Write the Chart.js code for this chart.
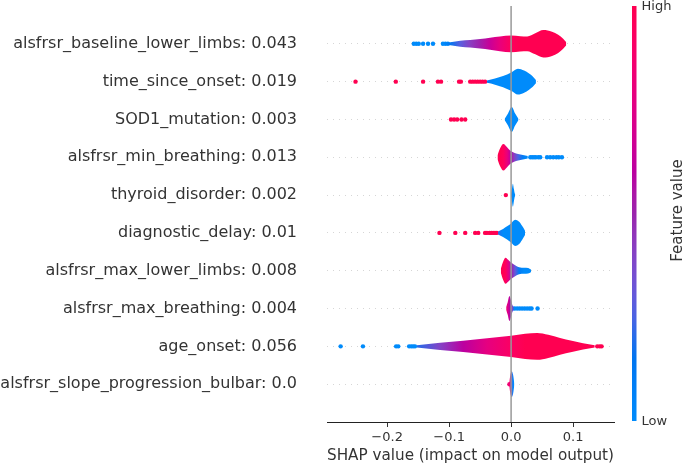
<!DOCTYPE html>
<html lang="en">
<head>
<meta charset="UTF-8">
<title>SHAP summary</title>
<script src="https://cdn.jsdelivr.net/npm/chart.js@4.4.0/dist/chart.umd.min.js"></script>
<style>
  html, body { margin: 0; padding: 0; background: #fff; }
  .chart-container { position: relative; width: 685px; height: 465px; }
</style>
</head>
<body>
<div class="chart-container"><canvas id="chart" width="685" height="465"></canvas></div>
<script>
// features from top to bottom
const features = [
  'alsfrsr_baseline_lower_limbs: 0.043',
  'time_since_onset: 0.019',
  'SOD1_mutation: 0.003',
  'alsfrsr_min_breathing: 0.013',
  'thyroid_disorder: 0.002',
  'diagnostic_delay: 0.01',
  'alsfrsr_max_lower_limbs: 0.008',
  'alsfrsr_max_breathing: 0.004',
  'age_onset: 0.056',
  'alsfrsr_slope_progression_bulbar: 0.0'
];

// violin outline: shap value, half width (in rows), feature value (0 low .. 1 high)
const violinX = [
  [-0.110, -0.098, -0.082, -0.066, -0.050, -0.034, -0.018, 0.0, 0.015, 0.026, 0.039, 0.052, 0.066, 0.076, 0.084, 0.089],
  [-0.039, -0.026, -0.013, 0.0, 0.011, 0.021, 0.029, 0.035, 0.040],
  [-0.0105, -0.005, 0.001, 0.0065, 0.012],
  [-0.022, -0.0177, -0.0124, -0.0065, -0.0016, 0.0048, 0.0113, 0.019, 0.027],
  [-0.0003, 0.0013, 0.0029, 0.0045, 0.0058, 0.0068],
  [-0.021, -0.013, -0.0065, 0.0, 0.0065, 0.013, 0.0177, 0.0226],
  [-0.0166, -0.0129, -0.0089, -0.0048, 0.0, 0.0065, 0.0129, 0.021, 0.0274, 0.0323],
  [-0.008, -0.0056, -0.0027, 0.0, 0.0024, 0.0048],
  [-0.152, -0.1145, -0.0774, -0.0387, 0.0, 0.0226, 0.042, 0.06, 0.079, 0.098, 0.116, 0.135],
  [-0.0032, -0.0016, 0.0008, 0.0032, 0.0053]
];
const violinW = [
  [0.027, 0.04, 0.08, 0.10, 0.127, 0.16, 0.194, 0.22, 0.2, 0.194, 0.279, 0.364, 0.32, 0.24, 0.133, 0.04],
  [0.032, 0.08, 0.146, 0.239, 0.34, 0.292, 0.212, 0.133, 0.04],
  [0.013, 0.16, 0.332, 0.16, 0.013],
  [0.053, 0.239, 0.353, 0.265, 0.178, 0.12, 0.088, 0.058, 0.032],
  [0.013, 0.16, 0.30, 0.16, 0.05, 0.013],
  [0.04, 0.106, 0.173, 0.252, 0.345, 0.292, 0.186, 0.053],
  [0.053, 0.239, 0.345, 0.292, 0.22, 0.146, 0.093, 0.08, 0.074, 0.032],
  [0.04, 0.16, 0.332, 0.212, 0.08, 0.04],
  [0.027, 0.093, 0.146, 0.212, 0.279, 0.332, 0.353, 0.305, 0.22, 0.146, 0.08, 0.027],
  [0.013, 0.2, 0.34, 0.25, 0.013]
];
const violinT = [
  [0.0, 0.15, 0.28, 0.42, 0.52, 0.65, 0.8, 0.95, 1, 1, 1, 1, 1, 1, 1, 1],
  [0.1, 0, 0, 0, 0, 0, 0, 0, 0],
  [0, 0, 0, 0, 0],
  [1, 1, 0.95, 0.8, 0.62, 0.42, 0.25, 0.1, 0],
  [0, 0, 0, 0, 0, 0],
  [0.2, 0, 0, 0, 0, 0, 0, 0],
  [1, 1, 0.95, 0.78, 0.55, 0.3, 0.1, 0, 0, 0],
  [0.85, 0.75, 0.6, 0.5, 0.35, 0.1],
  [0.2, 0.4, 0.6, 0.78, 0.92, 1, 1, 1, 1, 1, 1, 1],
  [0.85, 0.8, 0.3, 0, 0]
];

// single points outside the violins
const dotX = [
  [-0.157, -0.153, -0.149, -0.142, -0.134, -0.126, -0.110, -0.106, -0.102],
  [-0.251, -0.186, -0.142, -0.118, -0.113, -0.084, -0.081, -0.066, -0.062, -0.058, -0.054, -0.050, -0.046, -0.042],
  [-0.097, -0.092, -0.087, -0.080, -0.074],
  [0.031, 0.034, 0.037, 0.040, 0.044, 0.047, 0.058, 0.063, 0.068, 0.073, 0.077, 0.082],
  [-0.0085],
  [-0.1156, -0.090, -0.074, -0.058, -0.053, -0.042, -0.039, -0.035, -0.032, -0.029, -0.026, -0.023],
  [],
  [0.0056, 0.0097, 0.0137, 0.0177, 0.0218, 0.0258, 0.0298, 0.033, 0.0427],
  [-0.275, -0.239, -0.1855, -0.182, -0.1645, -0.161, -0.158, -0.155, 0.139, 0.143, 0.146],
  [-0.0027]
];
const dotT = [
  [0, 0, 0, 0, 0, 0, 0, 0, 0],
  [1, 1, 1, 1, 1, 1, 1, 1, 1, 1, 1, 1, 1, 1],
  [1, 1, 1, 1, 1],
  [0, 0, 0, 0, 0, 0, 0, 0, 0, 0, 0, 0],
  [1],
  [1, 1, 1, 1, 1, 1, 1, 1, 1, 1, 1, 1],
  [],
  [0, 0, 0, 0, 0, 0, 0, 0, 0],
  [0, 0, 0, 0, 0, 0, 0, 0, 1, 1, 1],
  [0.85]
];

const xTicks = [-0.2, -0.1, 0.0, 0.1];
const xRange = [-0.297, 0.166];

// shap red_blue colormap (lch interpolation)
function lch2rgb(l, c, h) {
  const a = c * Math.cos(h), b = c * Math.sin(h);
  const fy = (l + 16) / 116, fx = fy + a / 500, fz = fy - b / 200;
  const f = t => t > 6 / 29 ? t * t * t : 3 * (6 / 29) * (6 / 29) * (t - 4 / 29);
  const X = 0.95047 * f(fx), Y = f(fy), Z = 1.08883 * f(fz);
  const lin = [
    3.2406 * X - 1.5372 * Y - 0.4986 * Z,
    -0.9689 * X + 1.8758 * Y + 0.0415 * Z,
    0.0557 * X - 0.2040 * Y + 1.0570 * Z
  ];
  return lin.map(v => {
    v = Math.max(0, v);
    v = v <= 0.0031308 ? 12.92 * v : 1.055 * Math.pow(v, 1 / 2.4) - 0.055;
    return Math.round(Math.min(1, Math.max(0, v)) * 255);
  });
}
function colormap(t) {
  const l = t < 0.5 ? 54 - 28 * t : 40 + 28 * (t - 0.5);
  const c = 70 + 20 * t;
  const h = 4.6588 + (0.35470565 + 2 * Math.PI - 4.6588) * t;
  const [r, g, b] = lch2rgb(l, c, h);
  return `rgb(${r},${g},${b})`;
}

function violinFill(chart, i) {
  const area = chart.chartArea;
  const xs = chart.scales.x;
  if (!area || !xs) return colormap(violinT[i][0]);
  const g = chart.ctx.createLinearGradient(area.left, 0, area.right, 0);
  violinX[i].forEach((v, k) => {
    const p = (xs.getPixelForValue(v) - area.left) / (area.right - area.left);
    g.addColorStop(Math.min(1, Math.max(0, p)), colormap(violinT[i][k]));
  });
  return g;
}

const datasets = [];
features.forEach((name, i) => {
  const row = features.length - 1 - i;
  const line = {
    type: 'line',
    borderColor: 'rgba(0,0,0,0)',
    borderWidth: 0,
    pointRadius: 0,
    cubicInterpolationMode: 'monotone'
  };
  datasets.push(Object.assign({}, line, {
    data: violinX[i].map((x, k) => ({ x: x, y: row + violinW[i][k] })),
    fill: false
  }));
  datasets.push(Object.assign({}, line, {
    data: violinX[i].map((x, k) => ({ x: x, y: row - violinW[i][k] })),
    fill: '-1',
    backgroundColor: ctx => violinFill(ctx.chart, i)
  }));
  datasets.push({
    type: 'scatter',
    data: dotX[i].map(x => ({ x: x, y: row })),
    pointRadius: 2.2,
    pointBorderWidth: 0,
    pointBackgroundColor: dotT[i].map(colormap)
  });
});

const extras = {
  id: 'extras',
  afterDatasetsDraw(chart) {
    const { ctx, chartArea: a, scales } = chart;
    const x0 = scales.x.getPixelForValue(0);
    ctx.save();
    ctx.strokeStyle = '#999999';
    ctx.lineWidth = 1.5;
    ctx.beginPath();
    ctx.moveTo(x0, a.top);
    ctx.lineTo(x0, a.bottom);
    ctx.stroke();
    ctx.restore();
  },
  afterDraw(chart) {
    const { ctx, chartArea: a } = chart;
    const left = a.right + 18, w = 4.5, top = a.top, bottom = a.bottom - 1;
    const g = ctx.createLinearGradient(0, bottom, 0, top);
    for (let k = 0; k <= 20; k++) g.addColorStop(k / 20, colormap(k / 20));
    ctx.save();
    ctx.fillStyle = g;
    ctx.fillRect(left, top, w, bottom - top);
    ctx.fillStyle = '#333333';
    ctx.font = '13px "DejaVu Sans"';
    ctx.textAlign = 'left';
    ctx.textBaseline = 'middle';
    ctx.fillText('High', left + w + 5, top + 1);
    ctx.fillText('Low', left + w + 5, bottom + 1);
    ctx.translate(678, (top + bottom) / 2 - 3);
    ctx.rotate(-Math.PI / 2);
    ctx.textAlign = 'center';
    ctx.font = '15px "DejaVu Sans"';
    ctx.fillText('Feature value', 0, 0);
    ctx.restore();
  }
};

Chart.defaults.font.family = '"DejaVu Sans", sans-serif';

new Chart(document.getElementById('chart'), {
  type: 'line',
  data: { datasets: datasets },
  plugins: [extras],
  options: {
    responsive: false,
    animation: false,
    layout: { padding: { top: 6, right: 71, left: 0, bottom: 0 } },
    plugins: { legend: { display: false }, tooltip: { enabled: false } },
    scales: {
      x: {
        type: 'linear',
        position: 'bottom',
        min: xRange[0],
        max: xRange[1],
        afterBuildTicks: s => { s.ticks = xTicks.map(v => ({ value: v })); },
        afterFit: s => { s.height = 43; s.paddingLeft = 0; s.paddingRight = 0; },
        grid: { drawOnChartArea: false, drawTicks: true, tickLength: 5, tickColor: '#333333', tickWidth: 1 },
        border: { display: true, color: '#222222', width: 1 },
        ticks: {
          color: '#333333',
          font: { size: 13 },
          padding: 3,
          maxRotation: 0,
          callback: v => (v < 0 ? '\u2212' : '') + Math.abs(v).toFixed(1)
        },
        title: {
          display: true,
          text: 'SHAP value (impact on model output)',
          color: '#333333',
          font: { size: 16 },
          padding: { top: 0, bottom: 0 }
        }
      },
      y: {
        type: 'linear',
        min: -1,
        max: features.length,
        afterBuildTicks: s => { s.ticks = features.map((f, i) => ({ value: i })); },
        afterFit: s => { s.width = 327; s.paddingTop = 0; s.paddingBottom = 0; },
        grid: { color: '#cccccc', lineWidth: 0.8, drawTicks: false },
        border: { display: false, dash: [1, 5] },
        ticks: {
          color: '#333333',
          font: { size: 16 },
          padding: 30,
          autoSkip: false,
          callback: v => features[features.length - 1 - v]
        }
      }
    }
  }
});
</script>
</body>
</html>
